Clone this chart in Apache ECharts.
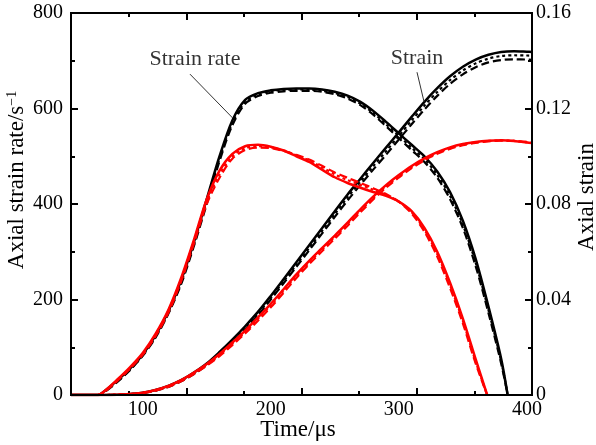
<!DOCTYPE html>
<html>
<head>
<meta charset="utf-8">
<script src="https://cdn.jsdelivr.net/npm/echarts@6/dist/echarts.min.js"></script>
<style>
html,body{margin:0;padding:0;background:#fff;}
#chart{width:596px;height:445px;}
</style>
</head>
<body>
<div id="chart"></div>
<script>
// time axis (us) for each group of curves
var tBlackRate = [44,65,70,80,90,100,110,120,130,140,150,160,170,180,190,200,210,220,230,240,250,260,270,280,290,300,310,320,330,340,350,360,370,380,385];
var tRedRate = [44,65,70,80,90,100,110,120,130,140,150,160,170,180,190,200,210,220,230,240,250,260,270,280,290,300,310,320,330,340,350,360,369];
var tStrain = [44,60,70,80,90,100,110,120,130,140,150,160,170,180,190,200,210,220,230,240,250,260,270,280,290,300,310,320,330,340,350,360,370,380,390,400,404];

// axial strain rate, 1/s (left axis)
var blackRateSolid = [0,0,8,30,55,85,125,175,240,320,410,500,575,618,632,638,641,642,642,640,635,627,614,595,572,548,524,500,468,425,365,285,185,75,0];
var blackRateDash  = [0,0,6,27,52,82,120,170,232,312,400,490,565,610,626,633,636,637,637,635,630,621,607,587,563,538,513,488,455,410,350,270,172,65,0];
var blackRateDot   = [0,0,7,28,53,83,122,172,236,316,405,495,570,614,629,636,639,640,640,637,632,624,610,591,567,543,518,494,461,417,357,277,178,70,0];
var redRateSolid = [0,0,8,32,58,88,128,178,245,325,410,470,505,521,524,520,512,500,488,472,456,444,434,425,417,405,385,350,300,235,160,75,0];
var redRateDash  = [0,0,6,29,55,84,123,172,238,317,400,455,495,513,518,517,511,503,493,480,466,455,444,433,421,405,380,342,290,224,150,66,0];
var redRateDot   = [0,0,7,30,56,86,125,175,241,321,405,462,500,517,521,519,512,502,491,477,462,450,440,430,419,405,383,346,295,230,155,70,0];

// axial strain (right axis)
var blackStrainSolid = [0,0,0,0.0001,0.0004,0.0010,0.0021,0.0038,0.0062,0.0094,0.0132,0.0180,0.0232,0.0288,0.0348,0.0415,0.0485,0.0556,0.0627,0.0698,0.0770,0.0840,0.0906,0.0972,0.1036,0.1100,0.1165,0.1228,0.1285,0.1335,0.1375,0.1405,0.1425,0.1437,0.1440,0.1438,0.1437];
var blackStrainDash  = [0,0,0,0.0001,0.0003,0.0008,0.0018,0.0034,0.0057,0.0088,0.0125,0.0170,0.0220,0.0274,0.0333,0.0400,0.0468,0.0537,0.0606,0.0676,0.0746,0.0815,0.0880,0.0944,0.1006,0.1070,0.1134,0.1196,0.1253,0.1303,0.1343,0.1373,0.1393,0.1403,0.1406,0.1405,0.1404];
var blackStrainDot   = [0,0,0,0.0001,0.0003,0.0009,0.0019,0.0036,0.0059,0.0091,0.0128,0.0175,0.0226,0.0281,0.0340,0.0407,0.0476,0.0546,0.0616,0.0687,0.0758,0.0828,0.0893,0.0958,0.1021,0.1085,0.1150,0.1212,0.1269,0.1319,0.1359,0.1389,0.1409,0.1420,0.1423,0.1422,0.1421];
var redStrainSolid = [0,0,0,0.0001,0.0004,0.0010,0.0021,0.0038,0.0062,0.0094,0.0130,0.0172,0.0220,0.0270,0.0325,0.0382,0.0443,0.0505,0.0562,0.0615,0.0668,0.0722,0.0778,0.0831,0.0879,0.0921,0.0959,0.0991,0.1017,0.1037,0.1051,0.1060,0.1065,0.1067,0.1064,0.1058,0.1055];
var redStrainDash  = [0,0,0,0.0001,0.0003,0.0008,0.0018,0.0034,0.0057,0.0088,0.0123,0.0163,0.0209,0.0258,0.0311,0.0367,0.0428,0.0490,0.0548,0.0602,0.0655,0.0709,0.0765,0.0819,0.0868,0.0911,0.0950,0.0983,0.1010,0.1031,0.1046,0.1056,0.1062,0.1065,0.1064,0.1060,0.1057];
var redStrainDot   = [0,0,0,0.0001,0.0003,0.0009,0.0019,0.0036,0.0059,0.0091,0.0126,0.0167,0.0214,0.0264,0.0318,0.0375,0.0436,0.0498,0.0555,0.0609,0.0662,0.0716,0.0772,0.0825,0.0874,0.0916,0.0955,0.0987,0.1014,0.1034,0.1049,0.1058,0.1064,0.1066,0.1064,0.1059,0.1056];

// tick labels
var timeLabels = [100,200,300,400];
var rateTicks = [0,200,400,600,800];
var strainTicks = [0,0.04,0.08,0.12,0.16];

// callouts: text, text position, leader start, leader end (time, strain rate)
var notes = [
  {name:'Strain rate', at:[140.8,704], from:[136.9,672], to:[170.3,580]},
  {name:'Strain', at:[314.2,706], from:[314.2,676], to:[319.7,614]}
];

var FONT = 'Liberation Serif';
var BLACK = '#000';
var RED = '#ff0000';
var RATE_MAX = rateTicks[rateTicks.length - 1];
var STRAIN_MAX = strainTicks[strainTicks.length - 1];
var G = {left: 71, right: 64, top: 13, bottom: 50};
var W = 596, H = 445;

function pairs(t, v) {
  return t.map(function (x, i) { return [x, v[i]]; });
}

function curve(name, t, v, color, kind, yIdx) {
  var ls = {color: color, width: 2.5};
  if (kind == 'dash') { ls.width = 2.2; ls.type = [8, 4]; }
  if (kind == 'dot') { ls.width = 2.2; ls.type = [3, 3]; }
  return {
    name: name, type: 'line', xAxisIndex: 0, yAxisIndex: yIdx,
    data: pairs(t, v), showSymbol: false, smooth: 0.3,
    lineStyle: ls, itemStyle: {color: color}, silent: true
  };
}

function majorTick() {
  return {show: true, inside: true, length: 7, lineStyle: {color: BLACK, width: 2}};
}
function minorTicks() {
  return {show: true, splitNumber: 2, length: 4, lineStyle: {color: BLACK, width: 2}};
}

// grid 1 draws ticks: ticks of the original don't line up with the time labels
function frameX(pos) {
  return {
    type: 'value', gridIndex: 1, position: pos, min: 0, max: 400, interval: 100,
    axisLine: {show: false, onZero: false}, axisTick: majorTick(), minorTick: minorTicks(),
    axisLabel: {show: false}, splitLine: {show: false}, minorSplitLine: {show: false}
  };
}
function frameY(pos, max, interval, labelOpt) {
  return {
    type: 'value', gridIndex: 1, position: pos, min: 0, max: max, interval: interval,
    axisLine: {show: false, onZero: false}, axisTick: majorTick(), minorTick: minorTicks(),
    axisLabel: labelOpt, splitLine: {show: false}, minorSplitLine: {show: false}
  };
}
// data axes in grid 0, same scales, no drawing
function dataY(max) {
  return {type: 'value', gridIndex: 0, min: 0, max: max, show: false};
}

var chart = echarts.init(document.getElementById('chart'), null, {renderer: 'canvas'});

var series = [
  curve('bRateDot', tBlackRate, blackRateDot, BLACK, 'dot', 0),
  curve('bRateDash', tBlackRate, blackRateDash, BLACK, 'dash', 0),
  curve('bRate', tBlackRate, blackRateSolid, BLACK, 'solid', 0),
  curve('bStrainDot', tStrain, blackStrainDot, BLACK, 'dot', 1),
  curve('bStrainDash', tStrain, blackStrainDash, BLACK, 'dash', 1),
  curve('bStrain', tStrain, blackStrainSolid, BLACK, 'solid', 1),
  curve('rRateDot', tRedRate, redRateDot, RED, 'dot', 0),
  curve('rRateDash', tRedRate, redRateDash, RED, 'dash', 0),
  curve('rRate', tRedRate, redRateSolid, RED, 'solid', 0),
  curve('rStrainDot', tStrain, redStrainDot, RED, 'dot', 1),
  curve('rStrainDash', tStrain, redStrainDash, RED, 'dash', 1),
  curve('rStrain', tStrain, redStrainSolid, RED, 'solid', 1),
  {
    name: 'notes', type: 'scatter', xAxisIndex: 0, yAxisIndex: 0, symbolSize: 0, silent: true,
    data: notes.map(function (n) { return {name: n.name, value: n.at}; }),
    label: {show: true, position: 'inside', formatter: '{b}', color: BLACK, fontSize: 22, fontFamily: FONT},
    markLine: {
      silent: true, symbol: ['none', 'none'], animation: false,
      label: {show: false},
      lineStyle: {color: '#333', width: 1, type: 'solid'},
      data: notes.map(function (n) { return [{coord: n.from}, {coord: n.to}]; })
    }
  }
];

var option = {
  animation: false,
  backgroundColor: '#fff',
  grid: [
    {left: G.left, right: G.right, top: G.top, bottom: G.bottom},
    {left: G.left, right: G.right, top: G.top, bottom: G.bottom}
  ],
  xAxis: [
    {
      type: 'value', gridIndex: 0, position: 'bottom', min: 44, max: 404,
      axisLine: {show: false, onZero: false}, axisTick: {show: false}, splitLine: {show: false},
      axisLabel: {customValues: timeLabels, color: BLACK, fontSize: 20, fontFamily: FONT, margin: 5}
    },
    frameX('bottom'),
    frameX('top')
  ],
  yAxis: [
    dataY(RATE_MAX),
    dataY(STRAIN_MAX),
    frameY('left', RATE_MAX, 200, {color: BLACK, fontSize: 20, fontFamily: FONT, margin: 8}),
    frameY('right', STRAIN_MAX, 0.04, {color: BLACK, fontSize: 20, fontFamily: FONT, margin: 4,
      formatter: function (v) { return v === 0 ? '0' : v.toFixed(2); }})
  ],
  graphic: [
    // plot frame, same box as the grids
    {type: 'rect', silent: true, z: 10,
      shape: {x: G.left, y: G.top, width: W - G.left - G.right, height: H - G.top - G.bottom},
      style: {fill: null, stroke: BLACK, lineWidth: 2}},
    {type: 'text', x: 17, y: 180, rotation: Math.PI / 2, silent: true,
      style: {text: 'Axial strain rate/s{sup|−1}', fill: BLACK, font: '23px "Liberation Serif"',
        align: 'center', verticalAlign: 'middle',
        rich: {sup: {fontSize: 14, fontFamily: FONT, verticalAlign: 'top', padding: [0, 0, 9, 0]}}}},
    {type: 'text', x: 587, y: 197, rotation: Math.PI / 2, silent: true,
      style: {text: 'Axial strain', fill: BLACK, font: '23px "Liberation Serif"', align: 'center', verticalAlign: 'middle'}},
    {type: 'text', x: 298, y: 430, silent: true,
      style: {text: 'Time/μs', fill: BLACK, font: '23px "Liberation Serif"', align: 'center', verticalAlign: 'middle'}}
  ],
  series: series
};
chart.setOption(option, true);
</script>
</body>
</html>
